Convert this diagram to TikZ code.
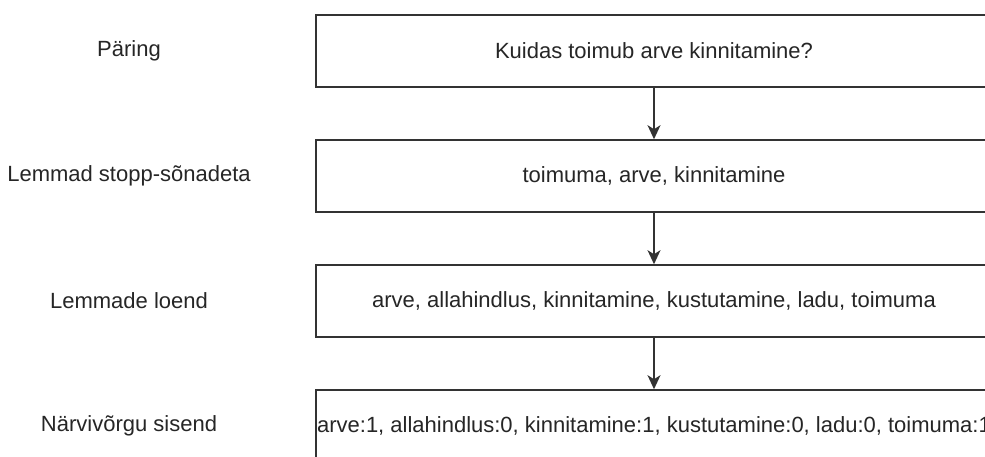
\documentclass[tikz,border=0pt]{standalone}
\usepackage{fontspec}
\setmainfont{Liberation Sans}
\usetikzlibrary{arrows.meta}
\definecolor{edge}{HTML}{333333}
\definecolor{ink}{HTML}{262626}
\tikzset{
  stage/.style={draw=edge, line width=1.6pt, minimum width=676pt, minimum height=72pt,
    inner sep=0pt, font=\fontsize{22}{26}\selectfont, text=ink},
  tag/.style={font=\fontsize{22}{26}\selectfont, text=ink},
  flow/.style={draw=edge, line width=1.6pt, -{Stealth[length=14pt,width=13pt,inset=4pt]}}
}
\begin{document}
\begin{tikzpicture}[x=1pt, y=-1pt]
  \useasboundingbox (0,0) rectangle (985,456);
  \fill[white] (0,0) rectangle (985,456);
  \node[stage] (q) at (654,51) {Kuidas toimub arve kinnitamine?};
  \node[stage] (l) at (654,176) {toimuma, arve, kinnitamine};
  \node[stage] (v) at (654,301) {arve, allahindlus, kinnitamine, kustutamine, ladu, toimuma};
  \node[stage] (n) at (654,426) {arve:1, allahindlus:0, kinnitamine:1, kustutamine:0, ladu:0, toimuma:1};
  \node[tag] (tq) at (129,51) {Päring};
  \node[tag] (tl) at (129,176) {Lemmad stopp-sõnadeta};
  \node[tag] (tv) at (129,301) {Lemmade loend};
  \node[tag] (tn) at (129,426) {Närvivõrgu sisend};
  \draw[flow] (q) -- (l);
  \draw[flow] (l) -- (v);
  \draw[flow] (v) -- (n);
\end{tikzpicture}
\end{document}
